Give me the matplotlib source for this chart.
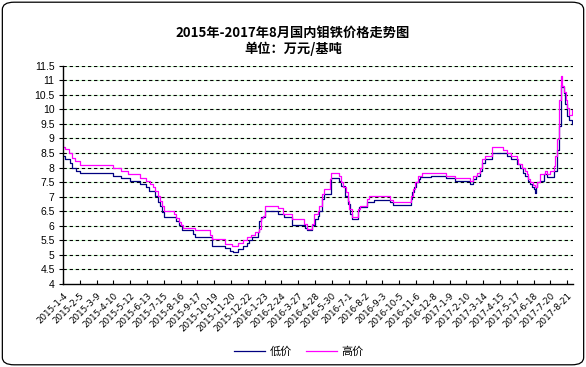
import numpy as np
import pandas as pd
import matplotlib
matplotlib.use("Agg")
import matplotlib.pyplot as plt
from matplotlib.patches import FancyBboxPatch

plt.rcParams['font.family'] = ['Noto Sans CJK SC', 'DejaVu Sans']
plt.rcParams['axes.unicode_minus'] = False

START = pd.Timestamp('2015-01-04')

# 低价: 变动日(距起始日天数) 与 价格
low_days = [0, 4, 13, 18, 25, 33, 95, 110, 128, 147, 158, 164, 175, 180, 185, 188,
            193, 215, 220, 226, 248, 251, 283, 309, 318, 323, 334, 342, 350, 355,
            359, 371, 374, 377, 384, 410, 420, 436, 460, 464, 474, 480, 486, 488,
            493, 496, 510, 525, 530, 536, 542, 546, 550, 562, 564, 578, 593, 623,
            629, 662, 665, 669, 672, 677, 680, 700, 730, 747, 774, 781, 787, 793,
            797, 804, 817, 845, 853, 864, 870, 876, 880, 886, 889, 892, 896, 899,
            900, 903, 909, 916, 921, 934, 941, 945, 949, 951, 954, 956, 960, 964,
            970]
low_vals = [8.4, 8.31, 8.17, 8.0, 7.89, 7.8, 7.72, 7.63, 7.55, 7.43, 7.32, 7.2, 7.04,
            6.83, 6.69, 6.49, 6.3, 6.18, 6.01, 5.84, 5.73, 5.61, 5.31, 5.22, 5.13,
            5.1, 5.19, 5.31, 5.42, 5.52, 5.61, 5.78, 6.18, 6.3, 6.52, 6.41, 6.3,
            6.01, 5.92, 5.84, 6.01, 6.24, 6.35, 6.52, 6.92, 7.1, 7.63, 7.55, 7.38,
            7.04, 6.75, 6.41, 6.24, 6.52, 6.66, 6.81, 6.9, 6.81, 6.72, 6.92, 7.15,
            7.32, 7.49, 7.6, 7.66, 7.72, 7.63, 7.55, 7.43, 7.6, 7.72, 7.89, 8.17,
            8.31, 8.51, 8.4, 8.28, 8.11, 8.0, 7.83, 7.72, 7.55, 7.44, 7.32, 7.27,
            7.13, 7.32, 7.5, 7.55, 7.77, 7.66, 7.89, 8.62, 9.42, 10.84, 10.78,
            10.55, 10.2, 9.76, 9.65, 9.51]

# 高价
high_days = [0, 4, 12, 17, 23, 32, 95, 110, 124, 147, 158, 166, 172, 175, 180, 185,
             188, 193, 212, 215, 220, 225, 229, 251, 279, 283, 309, 322, 334, 342,
             350, 358, 366, 374, 377, 380, 384, 410, 418, 436, 459, 464, 474, 478,
             486, 488, 493, 496, 509, 511, 525, 530, 534, 539, 542, 545, 550, 562,
             566, 578, 582, 623, 629, 662, 667, 671, 675, 683, 730, 747, 774, 780,
             788, 794, 798, 804, 817, 837, 845, 853, 864, 867, 873, 880, 883, 886,
             889, 894, 899, 902, 909, 917, 921, 928, 934, 937, 941, 944, 949, 951,
             954, 957, 960, 964, 970]
high_vals = [8.7, 8.63, 8.51, 8.34, 8.23, 8.1, 8.0, 7.89, 7.77, 7.63, 7.55, 7.43,
             7.32, 7.2, 7.04, 6.86, 6.69, 6.5, 6.41, 6.26, 6.13, 6.01, 5.93, 5.84,
             5.7, 5.56, 5.39, 5.31, 5.42, 5.5, 5.61, 5.7, 5.78, 5.9, 6.26, 6.35,
             6.69, 6.6, 6.41, 6.24, 6.07, 5.9, 6.07, 6.41, 6.5, 6.67, 7.09, 7.28,
             7.6, 7.8, 7.72, 7.49, 7.32, 7.15, 6.86, 6.58, 6.3, 6.58, 6.69, 6.92,
             7.01, 6.9, 6.81, 7.03, 7.26, 7.49, 7.72, 7.81, 7.72, 7.63, 7.55, 7.72,
             7.83, 8.0, 8.28, 8.4, 8.72, 8.62, 8.5, 8.4, 8.28, 8.11, 8.0, 7.89,
             7.77, 7.6, 7.49, 7.4, 7.32, 7.5, 7.77, 7.89, 7.77, 7.89, 8.05, 8.4,
             8.97, 10.33, 11.13, 10.8, 10.6, 10.33, 10.05, 9.82, 9.97]

tick_days = list(range(0, 961, 32))
end_day = 971

low_x = [START + pd.Timedelta(days=d) for d in low_days]
high_x = [START + pd.Timedelta(days=d) for d in high_days]
tick_x = [START + pd.Timedelta(days=d) for d in tick_days]
tick_labels = [f"{t.year}-{t.month}-{t.day}" for t in tick_x]

fig = plt.figure(figsize=(5.86, 3.67), dpi=100)
ax = fig.add_axes([63 / 586, 1 - 284 / 367, 510 / 586, (284 - 65.7) / 367])

# 外框
fig.patches.append(FancyBboxPatch((0.004, 0.006), 0.992, 0.988,
                                  boxstyle="round,pad=0,rounding_size=0.02",
                                  transform=fig.transFigure, fill=False,
                                  edgecolor='black', linewidth=0.9))

ax.plot(low_x, low_vals, drawstyle='steps-post', color='#000080', linewidth=0.9, label='低价')
ax.plot(high_x, high_vals, drawstyle='steps-post', color='#FF00FF', linewidth=0.9, label='高价')

ax.set_ylim(4, 11.5)
ax.set_yticks(np.arange(4, 11.51, 0.5))
ax.set_yticklabels([f"{v:g}" for v in np.arange(4, 11.51, 0.5)],
                   fontsize=7.5, family='Liberation Sans')
ax.set_xlim(START, START + pd.Timedelta(days=end_day))
ax.set_xticks(tick_x)
ax.set_xticklabels(tick_labels, rotation=45, ha='right', rotation_mode='anchor',
                   fontsize=6.3, family='DejaVu Sans')

for v in np.arange(4.5, 11.51, 0.5):
    ax.axhline(v, color='black', linewidth=0.8, linestyle=(0, (3, 2.5)),
               gapcolor='#ccffcc', zorder=0)

ax.spines['top'].set_visible(False)
ax.spines['right'].set_visible(False)
ax.spines['left'].set_linewidth(1.0)
ax.spines['bottom'].set_linewidth(1.0)
ax.tick_params(axis='x', direction='in', length=3, width=0.8, pad=5)
ax.tick_params(axis='y', direction='out', length=3, width=0.8, pad=3)

fig.text(0.5, 1 - 33 / 367, '2015年-2017年8月国内钼铁价格走势图', ha='center', va='center',
         fontsize=9.5, fontweight='bold')
fig.text(0.5, 1 - 49 / 367, '单位：万元/基吨', ha='center', va='center',
         fontsize=9.5, fontweight='bold')

fig.legend(loc='center', bbox_to_anchor=(0.51, 1 - 352 / 367), ncol=2, frameon=False,
           fontsize=8, handlelength=2.8, columnspacing=1.2, handletextpad=0.4)

fig.savefig('out.png', dpi=100)
